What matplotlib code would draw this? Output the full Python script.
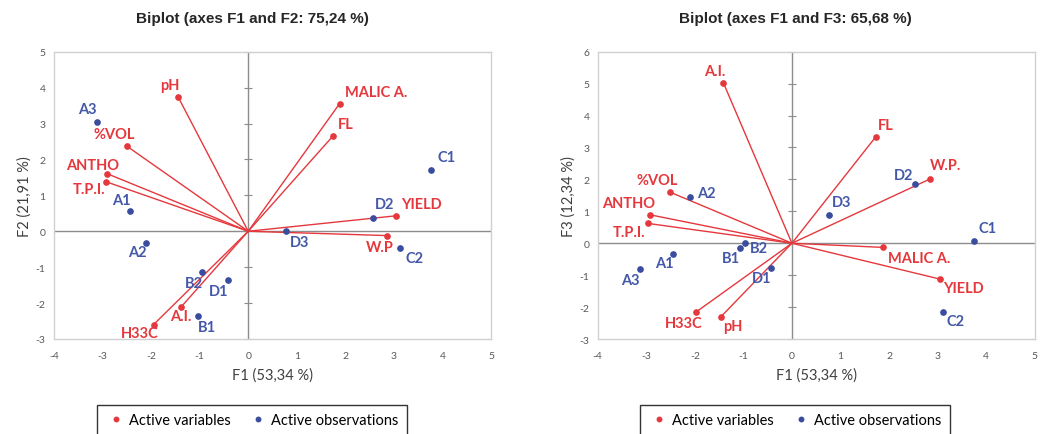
import numpy as np
import matplotlib
matplotlib.use("Agg")
import matplotlib.pyplot as plt
from matplotlib.lines import Line2D

plt.rcParams["axes.unicode_minus"] = False

# Biplot data
# ----------------------------------
# variables (red vectors) and observations (blue points)

var_names_12 = ["pH", "%VOL", "ANTHO", "T.P.I.", "A.I.", "H33C", "MALIC A.", "FL", "YIELD", "W.P"]
var_f1_12 = [-1.44, -2.50, -2.90, -2.93, -1.39, -1.95, 1.88, 1.75, 3.04, 2.86]
var_f2_12 = [3.73, 2.37, 1.60, 1.38, -2.12, -2.60, 3.55, 2.66, 0.43, -0.12]

obs_names_12 = ["A3", "A1", "A2", "B2", "D1", "B1", "C1", "D2", "D3", "C2"]
obs_f1_12 = [-3.12, -2.43, -2.10, -0.95, -0.42, -1.04, 3.77, 2.56, 0.78, 3.13]
obs_f2_12 = [3.04, 0.57, -0.33, -1.14, -1.36, -2.37, 1.71, 0.36, 0.00, -0.46]

var_names_13 = ["A.I.", "%VOL", "ANTHO", "T.P.I.", "H33C", "pH", "FL", "W.P.", "MALIC A.", "YIELD"]
var_f1_13 = [-1.41, -2.51, -2.92, -2.96, -1.97, -1.46, 1.73, 2.84, 1.87, 3.04]
var_f3_13 = [5.02, 1.60, 0.89, 0.62, -2.15, -2.30, 3.34, 2.01, -0.13, -1.12]

obs_names_13 = ["A2", "B2", "B1", "A1", "A3", "D1", "D2", "D3", "C1", "C2"]
obs_f1_13 = [-2.10, -0.96, -1.07, -2.45, -3.13, -0.43, 2.54, 0.76, 3.76, 3.11]
obs_f3_13 = [1.44, 0.00, -0.16, -0.34, -0.81, -0.79, 1.86, 0.89, 0.08, -2.15]

titles = ["Biplot (axes F1 and F2: 75,24 %)", "Biplot (axes F1 and F3: 65,68 %)"]
xlabels = ["F1 (53,34 %)", "F1 (53,34 %)"]
ylabels = ["F2 (21,91 %)", "F3 (12,34 %)"]

# label offsets in pixels (dx, dy up), with horizontal alignment
off_var_12 = {"pH": (-8, 12, "center"), "%VOL": (-13, 12, "center"), "ANTHO": (-15, 9, "center"),
              "T.P.I.": (-17, -7, "center"), "A.I.": (0, -9, "center"), "H33C": (-14, -8, "center"),
              "MALIC A.": (5, 12, "left"), "FL": (5, 12, "left"), "YIELD": (5, 12, "left"),
              "W.P": (-7, -11, "center")}
off_obs_12 = {"A3": (-9, 13, "center"), "A1": (-9, 11, "center"), "A2": (-9, -9, "center"),
              "B2": (-8, -11, "center"), "D1": (-9, -11, "center"), "B1": (9, -11, "center"),
              "C1": (6, 13, "left"), "D2": (12, 14, "center"), "D3": (14, -11, "center"),
              "C2": (14, -10, "center")}
off_var_13 = {"A.I.": (-9, 12, "center"), "%VOL": (-13, 12, "center"), "ANTHO": (-22, 12, "center"),
              "T.P.I.": (-19, -9, "center"), "H33C": (-13, -11, "center"), "pH": (12, -9, "center"),
              "FL": (10, 12, "center"), "W.P.": (16, 14, "center"), "MALIC A.": (5, -11, "left"),
              "YIELD": (4, -9, "left")}
off_obs_13 = {"A2": (7, 4, "left"), "B2": (14, -5, "center"), "B1": (-9, -10, "center"),
              "A1": (-9, -9, "center"), "A3": (-10, -11, "center"), "D1": (-9, -10, "center"),
              "D2": (-12, 9, "center"), "D3": (13, 13, "center"), "C1": (13, 13, "center"),
              "C2": (13, -9, "center")}

RED = "#E5383D"
BLUE = "#3A4C9E"
BLUE_TXT = "#4458A8"
W, H = 1040, 435


def biplot(ax, vx, vy, vnames, voff, ox, oy, onames, ooff, ylim, yticks):
    ax.axhline(0, color="#8C8C8C", lw=1, zorder=1)
    ax.axvline(0, color="#8C8C8C", lw=1, zorder=1)
    # small tick marks on the vertical zero line
    ax.plot(np.zeros(len(yticks)), yticks, ls="none", marker="_", ms=6, mew=0.8,
            color="#8C8C8C", zorder=1, clip_on=False)

    for x, y in zip(vx, vy):
        ax.plot([0, x], [0, y], color=RED, lw=1, zorder=2)
    ax.plot(vx, vy, "o", color=RED, ms=3.8, zorder=3, ls="none")
    ax.plot(ox, oy, "o", color=BLUE, ms=3.8, zorder=3, ls="none")

    for x, y, n in zip(vx, vy, vnames):
        dx, dy, ha = voff[n]
        ax.annotate(n, (x, y), xytext=(dx * 0.72, dy * 0.72), textcoords="offset points",
                    ha=ha, va="center", color=RED, fontsize=10.5, fontweight="bold",
                    family="Lato", zorder=4)
    for x, y, n in zip(ox, oy, onames):
        dx, dy, ha = ooff[n]
        ax.annotate(n, (x, y), xytext=(dx * 0.72, dy * 0.72), textcoords="offset points",
                    ha=ha, va="center", color=BLUE_TXT, fontsize=10.5, fontweight="bold",
                    family="Lato", zorder=4)

    ax.set_xlim(-4, 5)
    ax.set_ylim(*ylim)
    ax.set_xticks(range(-4, 6))
    ax.set_yticks(yticks)
    ax.tick_params(length=0, labelsize=7.5, labelcolor="#595959")
    ax.tick_params(axis="x", pad=9)
    ax.tick_params(axis="y", pad=6)
    for lab in ax.get_xticklabels() + ax.get_yticklabels():
        lab.set_family("Lato")
    for s in ax.spines.values():
        s.set_color("#D0D0D0")
        s.set_linewidth(1)


fig = plt.figure(figsize=(W / 100, H / 100), dpi=100)

ax1 = fig.add_axes([54 / W, (H - 340) / H, 437 / W, 287.3 / H])
biplot(ax1, var_f1_12, var_f2_12, var_names_12, off_var_12,
       obs_f1_12, obs_f2_12, obs_names_12, off_obs_12, (-3, 5), list(range(-3, 6)))

ax2 = fig.add_axes([597.7 / W, (H - 340) / H, 437 / W, 287.3 / H])
biplot(ax2, var_f1_13, var_f3_13, var_names_13, off_var_13,
       obs_f1_13, obs_f3_13, obs_names_13, off_obs_13, (-3, 6), list(range(-3, 7)))

centers = [252, 795]
for ax, cx, t, xl, yl in zip([ax1, ax2], centers, titles, xlabels, ylabels):
    fig.text(cx / W, 1 - 19 / H, t, ha="center", va="center", fontsize=11,
             fontweight="bold", family="Liberation Sans", color="#262626")
    ax.set_xlabel(xl, fontsize=10.5, family="Lato", color="#404040", labelpad=5)
    ax.set_ylabel(yl, fontsize=10.5, family="Lato", color="#404040", labelpad=3)

    handles = [Line2D([], [], ls="none", marker="o", ms=3.2, color=RED, label="Active variables"),
               Line2D([], [], ls="none", marker="o", ms=3.2, color=BLUE, label="Active observations")]
    leg = fig.legend(handles=handles, loc="center", bbox_to_anchor=(cx / W, 1 - 421 / H),
                     ncol=2, frameon=True, fancybox=False, edgecolor="black",
                     prop={"family": "Lato", "size": 10.5}, handletextpad=0.2,
                     columnspacing=1.2, handlelength=1.4, borderpad=0.55, borderaxespad=0)
    leg.get_frame().set_linewidth(1)

fig.savefig("out.png", dpi=100)
